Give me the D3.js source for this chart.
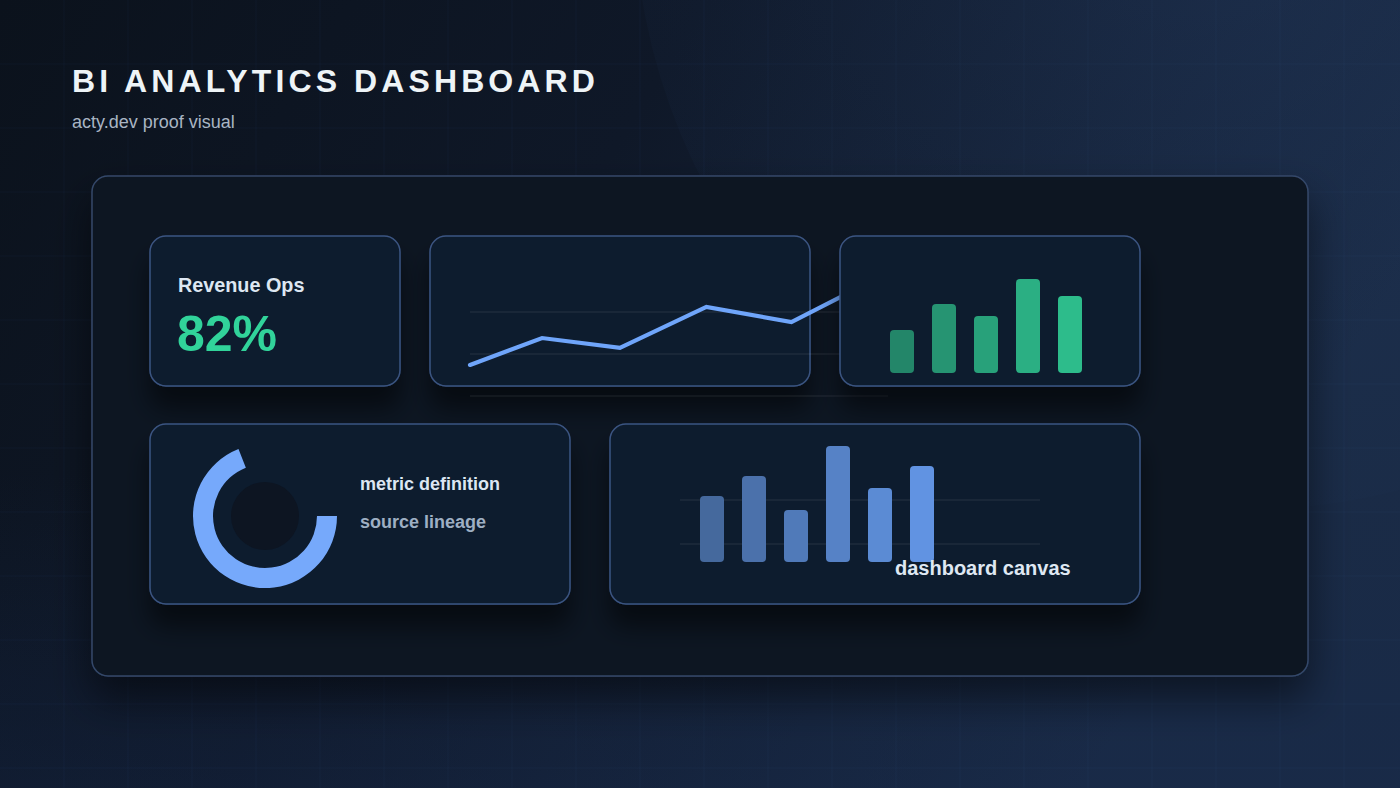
<!DOCTYPE html>
<html>
<head>
<meta charset="utf-8">
<script src="https://cdn.jsdelivr.net/npm/d3@7"></script>
<style>
  html, body { margin: 0; padding: 0; background: #0c131e; }
  svg { display: block; font-family: "Liberation Sans", Arial, Helvetica, sans-serif; }
</style>
</head>
<body>
<script>
const W = 1400;
const H = 788;

// ---- data ----
const titleText = "BI ANALYTICS DASHBOARD";
const subtitleText = "acty.dev proof visual";

const kpiLabel = "Revenue Ops";
const kpiValue = 82;

// trend line (x = day, y = value)
const trendDays = [0, 5, 10.4, 16.4, 22.3, 28];
const trendValues = [14.8, 27.6, 22.9, 42.4, 35.2, 55.2];
const trendTicks = [0, 20, 40];

// green mini bars
const greenCats = ["a", "b", "c", "d", "e"];
const greenValues = [43, 69, 57, 94, 77];

// donut
const donutShare = 0.69;
const donutLabels = ["metric definition", "source lineage"];

// blue bars
const blueCats = ["w1", "w2", "w3", "w4", "w5", "w6"];
const blueValues = [66, 86, 52, 116, 74, 96];
const blueTicks = [18, 62];
const canvasLabel = "dashboard canvas";

// ---- svg ----
const svg = d3.select("body").append("svg")
  .attr("width", W)
  .attr("height", H);

const defs = svg.append("defs");

const bg = defs.append("linearGradient").attr("id", "bg")
  .attr("x1", 0).attr("y1", 0).attr("x2", 1).attr("y2", 0.35);
bg.append("stop").attr("offset", 0).attr("stop-color", "#0b121c");
bg.append("stop").attr("offset", 0.45).attr("stop-color", "#0f1828");
bg.append("stop").attr("offset", 1).attr("stop-color", "#1a2b46");

const bgLow = defs.append("linearGradient").attr("id", "bgLow")
  .attr("x1", 0).attr("y1", 0).attr("x2", 0).attr("y2", 1);
bgLow.append("stop").attr("offset", 0.6).attr("stop-color", "#16284a").attr("stop-opacity", 0);
bgLow.append("stop").attr("offset", 1).attr("stop-color", "#16284a").attr("stop-opacity", 0.35);

const glow = defs.append("radialGradient").attr("id", "glow");
glow.append("stop").attr("offset", 0).attr("stop-color", "#2a4470").attr("stop-opacity", 0.3);
glow.append("stop").attr("offset", 1).attr("stop-color", "#1f3558").attr("stop-opacity", 0.1);

const panelShadow = defs.append("filter").attr("id", "panelShadow")
  .attr("x", -0.1).attr("y", -0.1).attr("width", 1.2).attr("height", 1.3);
panelShadow.append("feDropShadow")
  .attr("dx", 0).attr("dy", 22).attr("stdDeviation", 20)
  .attr("flood-color", "#000").attr("flood-opacity", 0.5);

const cardShadow = defs.append("filter").attr("id", "cardShadow")
  .attr("x", -0.2).attr("y", -0.2).attr("width", 1.4).attr("height", 1.6);
cardShadow.append("feDropShadow")
  .attr("dx", 0).attr("dy", 22).attr("stdDeviation", 12)
  .attr("flood-color", "#000").attr("flood-opacity", 0.5);

// background
svg.append("rect").attr("width", W).attr("height", H).attr("fill", "url(#bg)");
svg.append("rect").attr("width", W).attr("height", H).attr("fill", "url(#bgLow)");
svg.append("circle").attr("cx", 1244).attr("cy", -100).attr("r", 610).attr("fill", "url(#glow)");

// background grid
const grid = svg.append("g").attr("stroke", "#7fa6e0").attr("stroke-opacity", 0.045);
grid.selectAll("line.v").data(d3.range(64, W, 64)).join("line")
  .attr("x1", (d) => d).attr("x2", (d) => d).attr("y1", 0).attr("y2", H);
grid.selectAll("line.h").data(d3.range(64, H, 64)).join("line")
  .attr("x1", 0).attr("x2", W).attr("y1", (d) => d).attr("y2", (d) => d);

// titles
svg.append("text")
  .attr("x", 72).attr("y", 92)
  .attr("fill", "#eef4f7")
  .attr("font-size", 32)
  .attr("font-weight", 700)
  .attr("letter-spacing", 4.1)
  .text(titleText);

svg.append("text")
  .attr("x", 72).attr("y", 128)
  .attr("fill", "#a9b5c4")
  .attr("font-size", 18)
  .text(subtitleText);

// outer panel
svg.append("rect")
  .attr("x", 92).attr("y", 176).attr("width", 1216).attr("height", 500)
  .attr("rx", 16)
  .attr("fill", "#0e1620")
  .attr("stroke", "#34486a")
  .attr("stroke-width", 1.5)
  .attr("filter", "url(#panelShadow)");

const card = (x, y, w, h) => svg.append("rect")
  .attr("x", x).attr("y", y).attr("width", w).attr("height", h)
  .attr("rx", 16)
  .attr("fill", "#0e1b2d")
  .attr("stroke", "#3b5582")
  .attr("stroke-width", 1.5)
  .attr("filter", "url(#cardShadow)");

// card 1: KPI
card(150, 236, 250, 150);
svg.append("text")
  .attr("x", 178).attr("y", 292)
  .attr("fill", "#dde7f2")
  .attr("font-size", 19.8)
  .attr("font-weight", 700)
  .text(kpiLabel);
svg.append("text")
  .attr("x", 177).attr("y", 351)
  .attr("fill", "#31d39a")
  .attr("font-size", 50)
  .attr("font-weight", 700)
  .text(`${kpiValue}%`);

// card 2: trend line
card(430, 236, 380, 150);

const xTrend = d3.scaleLinear().domain([0, 29]).range([470, 888]);
const yTrend = d3.scaleLinear().domain([0, 60]).range([396, 270]);

svg.append("g")
  .selectAll("line")
  .data(trendTicks)
  .join("line")
  .attr("x1", xTrend(0)).attr("x2", xTrend(29))
  .attr("y1", (d) => yTrend(d)).attr("y2", (d) => yTrend(d))
  .attr("stroke", "#ffffff")
  .attr("stroke-opacity", 0.07)
  .attr("stroke-width", 1.5);

const trendLine = d3.line()
  .x((d, i) => xTrend(trendDays[i]))
  .y((d) => yTrend(d));

svg.append("path")
  .datum(trendValues)
  .attr("d", trendLine)
  .attr("fill", "none")
  .attr("stroke", "#6fa5fa")
  .attr("stroke-width", 4.2)
  .attr("stroke-linecap", "round")
  .attr("stroke-linejoin", "miter");

// card 3: green bars
card(840, 236, 300, 150);

const xGreen = d3.scaleBand().domain(greenCats).range([890, 1082])
  .paddingInner(18 / 42).paddingOuter(0);
const yGreen = d3.scaleLinear().domain([0, 100]).range([373, 273]);
const greenColor = d3.scaleLinear().domain([0, greenCats.length - 1])
  .range(["#238669", "#2dbc8b"]);

svg.append("g")
  .selectAll("rect")
  .data(greenValues)
  .join("rect")
  .attr("x", (d, i) => xGreen(greenCats[i]))
  .attr("y", (d) => yGreen(d))
  .attr("width", xGreen.bandwidth())
  .attr("height", (d) => yGreen(0) - yGreen(d))
  .attr("rx", 4)
  .attr("fill", (d, i) => greenColor(i));

// card 4: donut
card(150, 424, 420, 180);

const angle = d3.scaleLinear().domain([0, 1]).range([0, 2 * Math.PI]);
const arc = d3.arc().innerRadius(52).outerRadius(72);

const donut = svg.append("g").attr("transform", "translate(265,516)");
donut.append("path")
  .attr("d", arc({ startAngle: Math.PI / 2, endAngle: Math.PI / 2 + angle(donutShare) }))
  .attr("fill", "#76a9fb");
donut.append("circle").attr("r", 34).attr("fill", "#0d1522");

svg.append("g")
  .selectAll("text")
  .data(donutLabels)
  .join("text")
  .attr("x", 360)
  .attr("y", (d, i) => 490 + i * 38)
  .attr("fill", (d, i) => (i === 0 ? "#dce6f2" : "#9eafc3"))
  .attr("font-size", 18)
  .attr("font-weight", 700)
  .text((d) => d);

// card 5: blue bars
card(610, 424, 530, 180);

const xBlue = d3.scaleBand().domain(blueCats).range([700, 934])
  .paddingInner(18 / 42).paddingOuter(0);
const yBlue = d3.scaleLinear().domain([0, 120]).range([562, 442]);
const blueColor = d3.scaleLinear().domain([0, blueCats.length - 1])
  .range(["#45699d", "#6193e2"]);

svg.append("g")
  .selectAll("line")
  .data(blueTicks)
  .join("line")
  .attr("x1", 680).attr("x2", 1040)
  .attr("y1", (d) => yBlue(d)).attr("y2", (d) => yBlue(d))
  .attr("stroke", "#ffffff")
  .attr("stroke-opacity", 0.07)
  .attr("stroke-width", 1.5);

svg.append("g")
  .selectAll("rect")
  .data(blueValues)
  .join("rect")
  .attr("x", (d, i) => xBlue(blueCats[i]))
  .attr("y", (d) => yBlue(d))
  .attr("width", xBlue.bandwidth())
  .attr("height", (d) => yBlue(0) - yBlue(d))
  .attr("rx", 4)
  .attr("fill", (d, i) => blueColor(i));

svg.append("text")
  .attr("x", 895).attr("y", 575)
  .attr("fill", "#dfe8f3")
  .attr("font-size", 20)
  .attr("font-weight", 700)
  .text(canvasLabel);
</script>
</body>
</html>
